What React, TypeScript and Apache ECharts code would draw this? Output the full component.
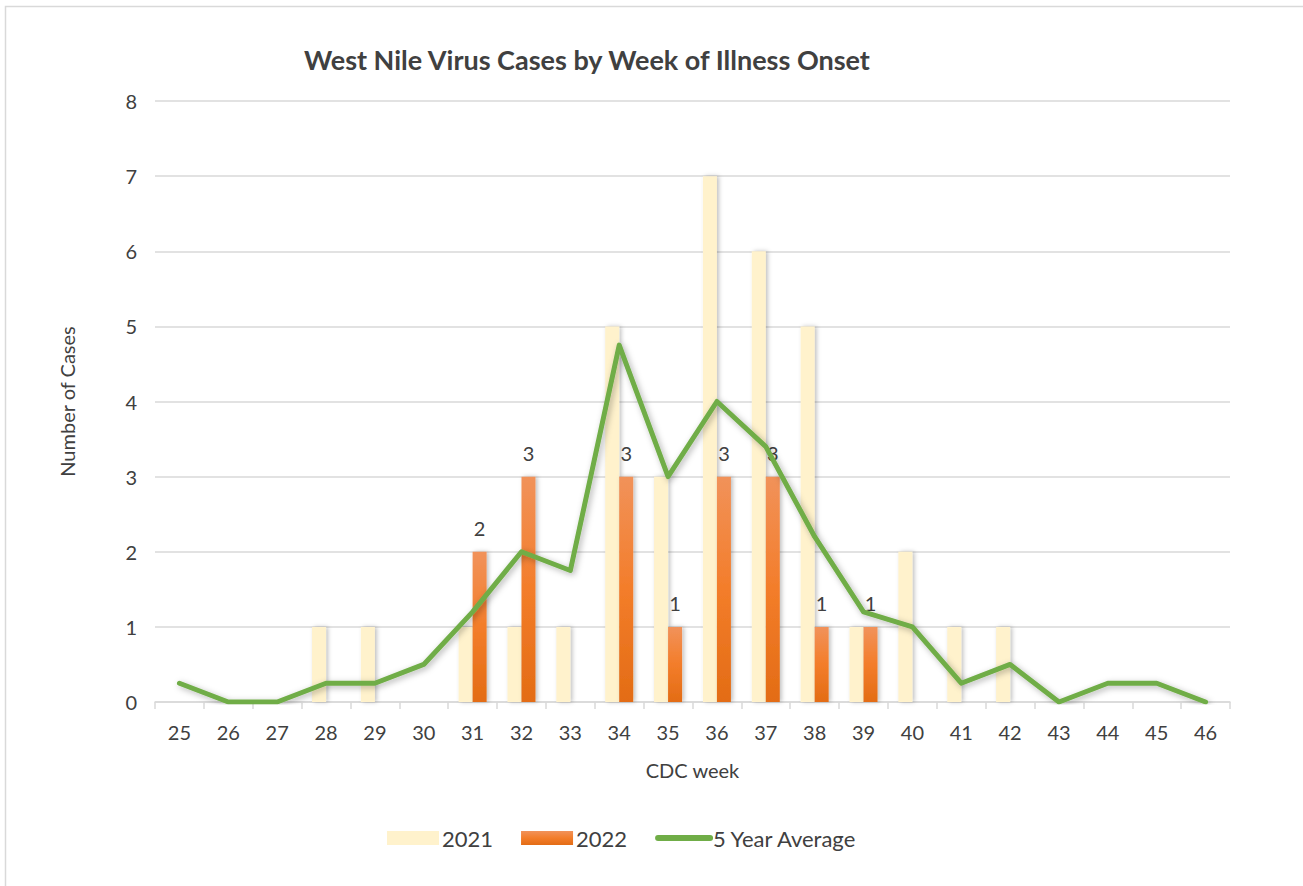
import React, { useEffect, useRef } from "react";
import * as echarts from "echarts";

const weeks = ["25","26","27","28","29","30","31","32","33","34","35","36","37","38","39","40","41","42","43","44","45","46"];
const cases2021 = [0,0,0,1,1,0,1,1,1,5,3,7,6,5,1,2,1,1,0,0,0,0];
const cases2022 = [0,0,0,0,0,0,2,3,0,3,1,3,3,1,1,0,0,0,0,0,0,0];
const avg5yr = [0.25,0,0,0.25,0.25,0.5,1.2,2,1.75,4.75,3,4,3.4,2.2,1.2,1,0.25,0.5,0,0.25,0.25,0];
const yTicks = [0,1,2,3,4,5,6,7,8];

const FONT = "Lato, 'Open Sans', sans-serif";

export default function App() {
  const ref = useRef<HTMLDivElement>(null);
  useEffect(() => {
    const chart = echarts.init(ref.current!, null, { renderer: "svg" });
    const orangeGrad = new echarts.graphic.LinearGradient(0, 0, 0, 1, [
      { offset: 0, color: "#F1925A" },
      { offset: 0.5, color: "#F37D2A" },
      { offset: 1, color: "#E36C15" },
    ]);
    chart.setOption({
      animation: false,
      backgroundColor: "#fff",
      textStyle: { fontFamily: FONT },
      title: {
        text: "West Nile Virus Cases by Week of Illness Onset",
        left: 299,
        top: 41,
        textStyle: { fontFamily: FONT, fontSize: 27, fontWeight: "bold", color: "#404040" },
      },
      graphic: [
        {
          type: "rect",
          shape: { x: 5.5, y: 6.5, width: 1400, height: 1000 },
          style: { fill: "none", stroke: "#d9d9d9", lineWidth: 1.5 },
          silent: true,
        },
      ],
      legend: {
        bottom: 37,
        left: 387,
        padding: 0,
        itemWidth: 52,
        itemHeight: 14,
        itemGap: 28,
        textStyle: { fontFamily: FONT, fontSize: 22, color: "#404040", padding: [0, 0, 0, -2] },
        data: [
          { name: "2021", icon: "rect" },
          { name: "2022", icon: "rect" },
          {
            name: "5 Year Average",
            itemStyle: { opacity: 0 },
            lineStyle: { width: 6, cap: "round", color: "#70AD47" },
          },
        ],
      },
      grid: { left: 155, right: 73, top: 101, bottom: 184 },
      xAxis: {
        type: "category",
        data: weeks,
        name: "CDC week",
        nameLocation: "middle",
        nameGap: 58,
        nameTextStyle: { fontFamily: FONT, fontSize: 20, color: "#404040" },
        axisLine: { lineStyle: { color: "#d9d9d9", width: 1.5 } },
        axisTick: { show: true, length: 7, lineStyle: { color: "#d9d9d9", width: 1.5 } },
        axisLabel: { fontFamily: FONT, fontSize: 20, color: "#404040", margin: 20 },
      },
      yAxis: {
        type: "value",
        min: 0,
        max: 8,
        interval: 1,
        name: "Number of Cases",
        nameLocation: "middle",
        nameGap: 78,
        nameTextStyle: { fontFamily: FONT, fontSize: 20, color: "#404040" },
        axisLine: { show: false },
        axisTick: { show: false },
        splitLine: { lineStyle: { color: "#d9d9d9", width: 1.5 } },
        axisLabel: {
          fontFamily: FONT, fontSize: 20, color: "#404040", margin: 18,
          formatter: (v: number) => (yTicks.includes(v) ? String(v) : ""),
        },
      },
      series: [
        {
          name: "2021",
          type: "bar",
          data: cases2021,
          barWidth: 14,
          barGap: "0%",
          itemStyle: {
            color: "#FFF2CC",
            shadowBlur: 4,
            shadowColor: "rgba(0,0,0,0.25)",
            shadowOffsetX: 2,
            shadowOffsetY: 0,
          },
        },
        {
          name: "2022",
          type: "bar",
          data: cases2022,
          barWidth: 14,
          barGap: "0%",
          itemStyle: {
            color: orangeGrad,
            shadowBlur: 4,
            shadowColor: "rgba(0,0,0,0.25)",
            shadowOffsetX: 2,
            shadowOffsetY: 0,
          },
          label: {
            show: true,
            position: "top",
            distance: 14,
            fontFamily: FONT,
            fontSize: 20,
            color: "#404040",
            formatter: (p: any) => (p.value ? String(p.value) : ""),
          },
        },
        {
          name: "5 Year Average",
          type: "line",
          data: avg5yr,
          symbol: "none",
          z: 5,
          lineStyle: {
            color: "#70AD47",
            width: 5,
            cap: "round",
            join: "round",
            shadowBlur: 6,
            shadowColor: "rgba(0,0,0,0.3)",
            shadowOffsetX: 2,
            shadowOffsetY: 2,
          },
          itemStyle: { color: "#70AD47" },
        },
      ],
    });
    return () => chart.dispose();
  }, []);
  return (
    <div style={{ position: "absolute", left: 0, top: 0, width: 1303, height: 886 }}>
      <div ref={ref} style={{ width: 1303, height: 886 }} />
    </div>
  );
}
